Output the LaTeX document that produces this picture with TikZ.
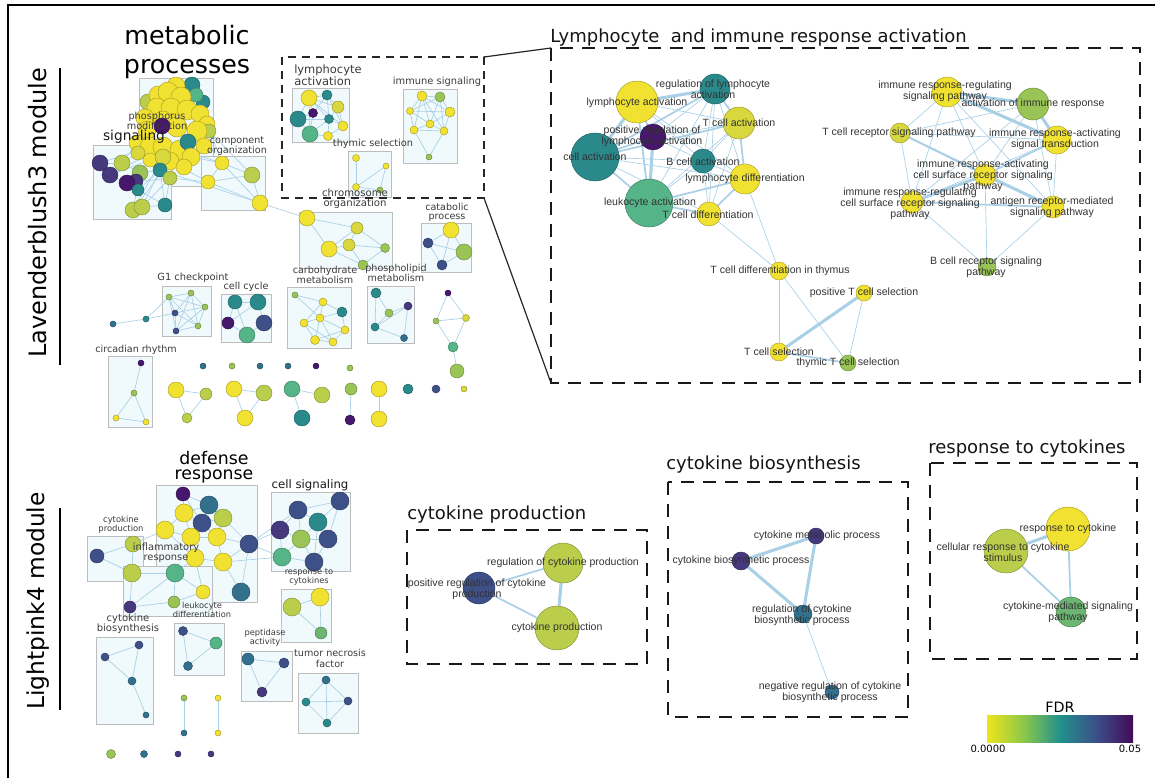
\documentclass[tikz,border=0pt]{standalone}
\usepackage{fontspec}
\setmainfont{DejaVu Sans}
\newfontfamily\lab{Liberation Sans}
\definecolor{cY}{HTML}{F1E232}
\definecolor{cYb}{HTML}{D8D73E}
\definecolor{cOL}{HTML}{BBCE4C}
\definecolor{cGR}{HTML}{9AC455}
\definecolor{cGM}{HTML}{6DB572}
\definecolor{cMG}{HTML}{55B488}
\definecolor{cTL}{HTML}{2A898A}
\definecolor{cTB}{HTML}{32708D}
\definecolor{cSL}{HTML}{3E5088}
\definecolor{cPS}{HTML}{46387D}
\definecolor{cPU}{HTML}{46176A}
\definecolor{edgec}{HTML}{A9D0E6}
\definecolor{boxf}{HTML}{F0F9FB}
\definecolor{boxd}{HTML}{BDBDBD}
\definecolor{labc}{HTML}{333333}
\definecolor{ovc}{HTML}{3A3A3A}
\definecolor{vA}{HTML}{EDE51B}
\definecolor{vB}{HTML}{8CC84A}
\definecolor{vC}{HTML}{21918C}
\definecolor{vD}{HTML}{3B4F8A}
\definecolor{vE}{HTML}{440A58}
\pgfdeclarehorizontalshading{viridisr}{100bp}{color(0bp)=(vA); color(25bp)=(vA); color(37.5bp)=(vB); color(50bp)=(vC); color(62.5bp)=(vD); color(75bp)=(vE); color(100bp)=(vE)}
\pgfdeclarelayer{boxes}
\pgfdeclarelayer{edges}
\pgfsetlayers{boxes,edges,main}
\tikzset{
  nd/.style={circle,inner sep=0pt,outer sep=0pt,fill=#1,draw=#1!70!black,line width=0.35pt},
  ed/.style={draw=edgec,line width=0.5pt},
  edm/.style={draw=edgec,line width=1.3pt},
  edt/.style={draw=edgec,line width=2.3pt},
  bx/.style={draw=boxd,fill=boxf,line width=0.6pt},
  dbox/.style={draw=black!90,line width=1.9pt,dash pattern=on 9.5pt off 7pt},
  sdbox/.style={draw=black!85,line width=1.1pt,dash pattern=on 6pt off 4.5pt},
  lbl/.style={font=\lab\fontsize{7.9}{8.3}\selectfont,text=labc,align=center,inner sep=0pt},
  ov/.style={font=\fontsize{7.2}{7.6}\selectfont,text=ovc,align=center,inner sep=0pt},
  ttl/.style={font=\fontsize{13.5}{15}\selectfont,text=black!92,inner sep=0pt,anchor=west},
}
\newcommand{\gn}[5]{\node[nd=#5,minimum size=#4*1.5pt] (#1) at (#2,#3) {};}
\begin{document}
\begin{tikzpicture}[x=0.75pt,y=-0.75pt]
\useasboundingbox (0,0) rectangle (1155,778);
% frame
\draw[black,line width=0.8pt] (8,778) -- (8,5) -- (1155,5);
% side labels
\node[font=\fontsize{18}{18}\selectfont,rotate=90,inner sep=0pt] (modA) at (38,213) {Lavenderblush3 module};
\node[font=\fontsize{17.5}{18}\selectfont,rotate=90,inner sep=0pt] (modB) at (38,601) {Lightpink4 module};
\draw[black,line width=0.8pt] (60,68) -- (60,365);
\draw[black,line width=0.8pt] (60,508) -- (60,710);

% ---------- overview boxes ----------
\begin{pgfonlayer}{boxes}
\draw[bx] (139,78) rectangle (213,186);
\draw[bx] (93,145) rectangle (171,219);
\draw[bx] (201,156) rectangle (265,210);
\draw[bx] (292,88) rectangle (349,142);
\draw[bx] (403,89) rectangle (457,163);
\draw[bx] (348,151) rectangle (391,197);
\draw[bx] (299,212) rectangle (392,268);
\draw[bx] (421,223) rectangle (471,272);
\draw[bx] (287,287) rectangle (351,348);
\draw[bx] (367,286) rectangle (414,343);
\draw[bx] (162,286) rectangle (211,336);
\draw[bx] (221,294) rectangle (271,342);
\draw[bx] (108,356) rectangle (152,427);
% bottom-left
\draw[bx] (156,485) rectangle (257,602);
\draw[bx] (271,492) rectangle (350,571);
\draw[bx] (87,536) rectangle (143,581);
\draw[bx] (123,566) rectangle (212,616);
\draw[bx] (174,623) rectangle (224,675);
\draw[bx] (96,637) rectangle (153,724);
\draw[bx] (281,589) rectangle (331,642);
\draw[bx] (241,651) rectangle (292,701);
\draw[bx] (298,673) rectangle (358,733);
\end{pgfonlayer}

% ---------- metabolic blob ----------
\gn{m1}{192}{85}{8}{cTL}
\gn{m2}{203}{102}{7}{cTL}
\gn{m3}{196}{95}{7}{cMG}
\gn{m4}{148}{102}{8}{cOL}
\gn{m40}{176}{86}{9}{cY}
\gn{m41}{158}{95}{9}{cY}
\gn{m5}{168}{92}{10}{cY}
\gn{m6}{181}{97}{10}{cY}
\gn{m7}{157}{108}{10}{cY}
\gn{m8}{171}{108}{10}{cY}
\gn{m9}{187}{110}{10}{cY}
\gn{m10}{200}{114}{9}{cY}
\gn{m11}{207}{124}{8}{cY}
\gn{m42}{145}{118}{9}{cY}
\gn{m12}{163}{121}{10}{cY}
\gn{m39}{209}{131}{7}{cOL}
\gn{m13}{177}{127}{10}{cY}
\gn{m14}{197}{131}{10}{cY}
\gn{m15}{147}{130}{9}{cY}
\gn{m22}{162}{126}{8}{cPU}
\gn{m16}{137}{143}{8}{cY}
\gn{m17}{150}{147}{10}{cY}
\gn{m18}{163}{147}{10}{cY}
\gn{m19}{180}{150}{10}{cY}
\gn{m43}{204}{146}{8}{cY}
\gn{m23}{188}{142}{8}{cTL}
\gn{m20}{191}{157}{9}{cY}
\gn{m21}{170}{161}{9}{cY}
\gn{m44}{184}{167}{8}{cY}
\gn{m38}{150}{160}{7}{cY}
\gn{m24}{163}{157}{8}{cYb}
\gn{m25}{138}{153}{7}{cYb}
\gn{m26}{160}{170}{7}{cTL}
\gn{m27}{170}{178}{7}{cOL}
\gn{m28}{140}{173}{8}{cGR}
\gn{m29}{100}{163}{8}{cPS}
\gn{m30}{110}{175}{8}{cPS}
\gn{m31}{122}{163}{8}{cOL}
\gn{m33}{136}{181}{7}{cPS}
\gn{m32}{127}{183}{8}{cPU}
\gn{m34}{138}{190}{6}{cTL}
\gn{m35}{133}{210}{8}{cOL}
\gn{m36}{142}{207}{8}{cOL}
\gn{m37}{165}{205}{7}{cTL}
\gn{co1}{222}{163}{7}{cY}
\gn{co2}{252}{175}{8}{cOL}
\gn{co3}{208}{182}{7}{cY}
\gn{co4}{260}{203}{8}{cY}
% lymphocyte activation sub-box
\gn{la1}{309}{98}{8}{cY}
\gn{la2}{327}{95}{5}{cTL}
\gn{la3}{338}{107}{6}{cYb}
\gn{la4}{298}{119}{8}{cTL}
\gn{la5}{313}{113}{4.5}{cPU}
\gn{la6}{329}{119}{4.5}{cTL}
\gn{la7}{310}{134}{8}{cMG}
\gn{la8}{343}{126}{5}{cY}
\gn{la9}{328}{136}{4.5}{cY}
% immune signaling
\gn{is1}{422}{96}{5}{cY}
\gn{is2}{440}{97}{5}{cGR}
\gn{is3}{410}{111}{3.5}{cY}
\gn{is4}{450}{112}{5}{cY}
\gn{is5}{414}{130}{4}{cY}
\gn{is6}{430}{124}{4}{cY}
\gn{is7}{444}{131}{4}{cY}
\gn{is8}{429}{157}{3}{cGR}
% thymic selection
\gn{ts1}{356}{158}{3.5}{cY}
\gn{ts2}{386}{166}{3}{cY}
\gn{ts3}{356}{187}{3.5}{cY}
\gn{ts4}{380}{190}{3}{cGR}
% chromosome organization
\gn{co5}{307}{218}{8}{cY}
\gn{co6}{357}{228}{6}{cYb}
\gn{co7}{329}{249}{8}{cY}
\gn{co8}{349}{245}{6}{cYb}
\gn{co9}{385}{248}{4.5}{cGR}
\gn{co10}{363}{265}{5}{cGR}
% catabolic process
\gn{cp1}{451}{230}{8}{cY}
\gn{cp2}{428}{243}{5}{cSL}
\gn{cp3}{464}{252}{8}{cGR}
\gn{cp4}{442}{265}{5}{cSL}
% carbohydrate metabolism
\gn{cm1}{295}{295}{3}{cGR}
\gn{cm2}{323}{302}{4}{cY}
\gn{cm3}{342}{312}{5}{cTL}
\gn{cm4}{320}{318}{4}{cY}
\gn{cm5}{304}{323}{4}{cY}
\gn{cm6}{345}{330}{4}{cY}
\gn{cm7}{315}{340}{4.5}{cY}
\gn{cm8}{333}{342}{4}{cY}
% phospholipid metabolism
\gn{pm1}{376}{293}{5}{cTL}
\gn{pm2}{408}{306}{4}{cPS}
\gn{pm3}{389}{313}{4}{cGR}
\gn{pm4}{375}{327}{4}{cTL}
\gn{pm5}{404}{338}{3.5}{cTB}
% G1 checkpoint
\gn{g1}{169}{297}{3}{cGR}
\gn{g2}{191}{293}{3}{cGR}
\gn{g3}{205}{307}{3}{cGR}
\gn{g4}{175}{313}{3}{cSL}
\gn{g5}{198}{326}{3}{cGR}
\gn{g6}{176}{331}{3}{cSL}
\gn{g7}{146}{319}{3}{cTL}
\gn{g8}{113}{324}{3}{cTB}
% cell cycle
\gn{cc1}{235}{302}{7}{cTL}
\gn{cc2}{258}{302}{8}{cTL}
\gn{cc3}{228}{323}{6}{cPU}
\gn{cc4}{264}{323}{8}{cSL}
\gn{cc5}{247}{335}{8}{cMG}
% circadian rhythm
\gn{cr1}{141}{363}{3}{cPU}
\gn{cr2}{134}{393}{3}{cGR}
\gn{cr3}{116}{418}{3}{cY}
\gn{cr4}{146}{422}{3}{cY}
% right chain
\gn{rc1}{448}{293}{3}{cPU}
\gn{rc2}{436}{321}{3}{cGR}
\gn{rc3}{466}{318}{3.5}{cYb}
\gn{rc4}{453}{347}{5}{cMG}
\gn{rc5}{457}{371}{7}{cGR}
% dots
\gn{d1}{203}{366}{3}{cTB}
\gn{d2}{232}{366}{3}{cGR}
\gn{d3}{260}{366}{3}{cTB}
\gn{d4}{288}{366}{3}{cTB}
\gn{d5}{316}{366}{3}{cPU}
\gn{d6}{350}{368}{3}{cGR}
% bottom groups
\gn{b1}{176}{390}{8}{cY}
\gn{b2}{206}{394}{6}{cOL}
\gn{b3}{187}{418}{5}{cOL}
\gn{b4}{234}{389}{8}{cY}
\gn{b5}{264}{393}{8}{cOL}
\gn{b6}{245}{418}{8}{cY}
\gn{b7}{292}{389}{8}{cMG}
\gn{b8}{322}{395}{8}{cOL}
\gn{b9}{302}{418}{8}{cTL}
\gn{b10}{351}{389}{6}{cGR}
\gn{b11}{350}{420}{5}{cPU}
\gn{b12}{379}{389}{8}{cY}
\gn{b13}{379}{419}{8}{cY}
\gn{b14}{408}{389}{5}{cTL}
\gn{b15}{436}{389}{4}{cSL}
\gn{b16}{464}{389}{3}{cYb}

% ---------- bottom-left overview ----------
\gn{dr1}{183}{494}{7}{cPU}
\gn{dr2}{209}{505}{9}{cTB}
\gn{dr3}{184}{513}{9}{cY}
\gn{dr5}{223}{518}{9}{cOL}
\gn{dr4}{202}{523}{9}{cSL}
\gn{dr6}{165}{530}{9}{cY}
\gn{dr7}{191}{537}{9}{cY}
\gn{dr8}{217}{537}{9}{cY}
\gn{dr9}{249}{544}{9}{cSL}
\gn{dr10}{195}{558}{9}{cY}
\gn{dr11}{223}{562}{9}{cY}
\gn{cpd1}{133}{544}{8}{cOL}
\gn{cpd2}{97}{556}{7}{cSL}
\gn{cpd3}{132}{573}{9}{cOL}
\gn{dr12}{175}{573}{9}{cMG}
\gn{dr13}{203}{592}{7}{cY}
\gn{dr14}{241}{592}{9}{cTB}
\gn{dr15}{174}{602}{6}{cGR}
\gn{dr16}{130}{607}{6}{cPS}
\gn{cs1}{298}{510}{9}{cSL}
\gn{cs2}{340}{501}{9}{cSL}
\gn{cs3}{318}{522}{9}{cTL}
\gn{cs4}{280}{530}{9}{cPS}
\gn{cs5}{301}{539}{9}{cGR}
\gn{cs6}{328}{539}{9}{cSL}
\gn{cs7}{282}{557}{9}{cMG}
\gn{cs8}{314}{562}{9}{cSL}
\gn{rca}{292}{607}{9}{cOL}
\gn{rcb}{320}{597}{9}{cY}
\gn{rcc}{321}{633}{6}{cGM}
\gn{cb1}{139}{645}{4}{cSL}
\gn{cb2}{105}{657}{4}{cSL}
\gn{cb3}{132}{681}{4}{cTB}
\gn{cb4}{146}{715}{3}{cTB}
\gn{ld1}{183}{631}{4.5}{cSL}
\gn{ld2}{216}{643}{6}{cMG}
\gn{ld3}{188}{666}{4.5}{cTB}
\gn{pa1}{248}{659}{6}{cTB}
\gn{pa2}{284}{663}{5}{cSL}
\gn{pa3}{262}{692}{5}{cPS}
\gn{tn1}{326}{680}{4}{cTB}
\gn{tn2}{306}{702}{4}{cTL}
\gn{tn3}{348}{701}{4}{cSL}
\gn{tn4}{327}{723}{4}{cTL}
\gn{pp1}{184}{698}{3}{cGR}
\gn{pp2}{184}{733}{3}{cTB}
\gn{pp3}{218}{698}{3}{cY}
\gn{pp4}{218}{733}{3}{cY}
\gn{s1}{111}{754}{4.5}{cGR}
\gn{s2}{144}{754}{3.5}{cTB}
\gn{s3}{178}{754}{3}{cPS}
\gn{s4}{211}{754}{3}{cPS}

% ---------- Lymphocyte big box nodes ----------
\gn{LA}{637}{102}{21}{cY}
\gn{RLA}{715}{89}{15}{cTL}
\gn{TCA}{739}{123}{16}{cYb}
\gn{PRLA}{653}{137}{13}{cPU}
\gn{CA}{595}{157}{24}{cTL}
\gn{BCA}{703}{161}{12}{cTL}
\gn{LD}{745}{179}{15}{cY}
\gn{LKA}{649}{203}{24}{cMG}
\gn{TCD}{709}{214}{12}{cY}
\gn{TDT}{779}{271}{9}{cY}
\gn{PTS}{864}{293}{8}{cY}
\gn{TS}{779}{352}{9}{cY}
\gn{TTS}{848}{363}{8}{cGR}
\gn{IRRSP}{947}{92}{15}{cY}
\gn{AIR}{1033}{104}{16}{cGR}
\gn{TCR}{900}{133}{10}{cYb}
\gn{IRAST}{1057}{140}{14}{cY}
\gn{IRACS}{985}{175}{11}{cY}
\gn{IRRCS}{912}{202}{11}{cY}
\gn{ARM}{1053}{207}{11}{cY}
\gn{BCR}{987}{267}{9}{cGR}
% cytokine boxes
\gn{RCP}{563}{563}{20}{cOL}
\gn{PRCP}{479}{588}{16}{cSL}
\gn{CPR}{557}{628}{22}{cOL}
\gn{CMP}{816}{536}{8}{cPS}
\gn{CBP}{741}{561}{9}{cPS}
\gn{RCB}{803}{614}{9}{cTB}
\gn{NRC}{832}{692}{7}{cTB}
\gn{RTC}{1068}{529}{22}{cY}
\gn{CRCS}{1006}{551}{22}{cOL}
\gn{CMSP}{1071}{612}{15}{cGM}

% ---------- edges ----------
\begin{pgfonlayer}{edges}
\foreach \a/\b in {m29/m31,m29/m30,m30/m32,m31/m28,m32/m34,m28/m35,m35/m36,m36/m37,m34/m37,m37/m26,m31/m16,m30/m18,m35/m21,m36/m27,m28/m26,m37/m27,m34/m21,m29/m17,m32/m27,m30/m38,m31/m25,m35/m24,m36/m26,
  co1/co2,co1/co3,co2/co4,co3/co4,co1/co4,co3/co2,m20/co1,m21/co3,m27/co3,m26/co4,m19/co1,m11/co1,m39/co2,co4/co5,
  la1/la2,la1/la3,la1/la4,la1/la5,la1/la6,la1/la7,la2/la3,la2/la5,la2/la6,la3/la6,la3/la8,la4/la5,la4/la7,la5/la7,la6/la7,la6/la8,la7/la9,la8/la9,la6/la9,la4/la6,la2/la8,la1/la8,
  is1/is2,is1/is3,is1/is4,is1/is5,is1/is6,is1/is7,is2/is3,is2/is4,is2/is6,is2/is7,is3/is5,is3/is6,is4/is6,is4/is7,is5/is6,is6/is7,is5/is7,is5/is8,is7/is8,is3/is4,
  ts1/ts3,ts2/ts3,ts2/ts4,ts3/ts4,
  co5/co6,co5/co7,co6/co7,co6/co8,co7/co8,co6/co9,co8/co9,co8/co10,co7/co10,co9/co10,
  cp1/cp2,cp1/cp3,cp2/cp4,cp3/cp4,cp2/cp3,cp1/cp4,
  cm1/cm4,cm1/cm2,cm2/cm3,cm2/cm4,cm2/cm5,cm3/cm4,cm3/cm6,cm4/cm5,cm4/cm6,cm4/cm7,cm4/cm8,cm5/cm7,cm6/cm8,cm7/cm8,cm5/cm8,cm6/cm7,
  pm1/pm3,pm1/pm4,pm2/pm3,pm2/pm4,pm3/pm4,pm2/pm5,pm4/pm5,
  g1/g2,g1/g3,g1/g4,g1/g5,g1/g6,g2/g3,g2/g4,g2/g5,g2/g6,g3/g4,g3/g5,g3/g6,g4/g5,g4/g6,g5/g6,g1/g7,g4/g7,g7/g8,
  cc1/cc2,cc1/cc3,cc2/cc4,cc3/cc5,cc4/cc5,cc1/cc5,cc2/cc3,
  cr1/cr2,cr2/cr3,cr2/cr4,cr3/cr4,
  rc1/rc2,rc1/rc3,rc2/rc3,rc3/rc4,rc2/rc4,rc4/rc5,
  b1/b2,b2/b3,b1/b3,b4/b5,b4/b6,b5/b6,b7/b8,b7/b9,b10/b11,b12/b13,
  dr1/dr2,dr1/dr3,dr1/dr4,dr2/dr3,dr2/dr4,dr2/dr5,dr3/dr4,dr3/dr6,dr3/dr7,dr4/dr5,dr4/dr7,dr4/dr8,dr5/dr8,dr6/dr7,dr6/dr10,dr7/dr8,dr7/dr10,dr8/dr11,dr8/dr9,dr10/dr11,dr5/dr9,dr9/dr11,dr9/dr14,dr11/dr14,dr10/dr12,dr12/dr13,dr10/dr13,dr13/dr15,dr12/dr15,dr15/dr16,dr12/dr16,dr6/cpd1,
  cpd1/cpd2,cpd2/cpd3,cpd1/cpd3,cpd3/dr12,cpd3/dr16,
  dr9/cs4,dr9/cs1,dr11/cs7,dr9/cs7,
  cs1/cs2,cs1/cs3,cs1/cs4,cs1/cs5,cs2/cs3,cs2/cs6,cs3/cs5,cs3/cs6,cs4/cs5,cs4/cs7,cs5/cs7,cs5/cs8,cs6/cs8,cs7/cs8,cs3/cs8,cs5/cs6,
  rca/rcb,rca/rcc,rcb/rcc,
  cb1/cb2,cb1/cb3,cb2/cb3,cb3/cb4,
  ld1/ld2,ld1/ld3,ld2/ld3,
  pa1/pa2,pa1/pa3,pa2/pa3,
  tn1/tn2,tn1/tn3,tn1/tn4,tn2/tn3,tn2/tn4,tn3/tn4,
  pp1/pp2,pp3/pp4}
  \draw[ed] (\a) -- (\b);
% lymphocyte cluster
\foreach \a/\b in {LA/TCA,LA/BCA,LA/LD,RLA/PRLA,RLA/BCA,RLA/LD,RLA/TCD,RLA/LKA,TCA/BCA,TCA/TCD,TCA/LKA,TCA/PRLA,PRLA/BCA,CA/BCA,CA/LD,CA/TCD,LKA/BCA,BCA/LD,BCA/TCD,LD/TDT,TCD/TDT,TDT/TS,TDT/TTS,PTS/TTS,
  IRRSP/TCR,IRRSP/IRACS,IRRSP/IRRCS,IRRSP/ARM,AIR/TCR,AIR/IRACS,AIR/IRRCS,AIR/ARM,TCR/IRRCS,TCR/IRAST,IRAST/ARM,IRAST/IRRCS,BCR/IRRCS,BCR/IRACS,BCR/ARM,
  RCB/NRC}
  \draw[ed] (\a) -- (\b);
\foreach \a/\b in {LA/PRLA,LA/LKA,RLA/TCA,RLA/CA,TCA/CA,TCA/LD,CA/LKA,LKA/LD,LKA/TCD,LD/TCD,PRLA/CA,TS/TTS,
  TCR/ARM,IRAST/IRACS,IRRCS/ARM,TCR/IRACS,
  PRCP/RCP,PRCP/CPR,RTC/CMSP,CRCS/CMSP}
  \draw[edm] (\a) -- (\b);
\foreach \a/\b in {LA/RLA,LA/CA,PRLA/LKA,PTS/TS,IRRSP/AIR,IRRSP/IRAST,AIR/IRAST,IRACS/IRRCS,IRACS/ARM,
  RCP/CPR,CMP/CBP,CMP/RCB,CBP/RCB,RTC/CRCS}
  \draw[edt] (\a) -- (\b);
\end{pgfonlayer}

% ---------- overview labels ----------
\node[font=\fontsize{19}{21.8}\selectfont,align=center,inner sep=0pt] (tMP) at (187,52) {metabolic\\processes};
\node[ov,font=\fontsize{7.3}{7.4}\selectfont] (tPM) at (157,121) {phosphorus\\modification};
\node[font=\fontsize{10.3}{11}\selectfont,text=black!90,inner sep=0pt] (tSG) at (134,137) {signaling};
\node[ov,font=\fontsize{7.2}{6.3}\selectfont] (tCO) at (237,146) {component\\organization};
\node[font=\fontsize{8.6}{9}\selectfont,text=ovc,align=left,inner sep=0pt,anchor=west] (tLA) at (294,75) {lymphocyte\\activation};
\node[ov,font=\fontsize{7.4}{8}\selectfont] (tIS) at (437,82) {immune signaling};
\node[ov,font=\fontsize{7.3}{8}\selectfont] (tTS) at (373,144) {thymic selection};
\node[ov,font=\fontsize{7.6}{7.6}\selectfont] (tCH) at (355,199) {chromosome\\organization};
\node[ov,font=\fontsize{7.2}{6.8}\selectfont] (tCP) at (447,212.5) {catabolic\\process};
\node[ov,font=\fontsize{7.2}{7.5}\selectfont] (tCM) at (325,275) {carbohydrate\\metabolism};
\node[ov,font=\fontsize{7.2}{7.5}\selectfont] (tPL) at (396,273) {phospholipid\\metabolism};
\node[ov,font=\fontsize{7.4}{8}\selectfont] (tG1) at (193,278) {G1 checkpoint};
\node[ov,font=\fontsize{7.3}{8}\selectfont] (tCC) at (246,287) {cell cycle};
\node[ov,font=\fontsize{7.2}{8}\selectfont] (tCR) at (136,350) {circadian rhythm};
\node[font=\fontsize{13}{11.3}\selectfont,align=center,inner sep=0pt] (tDR) at (214,467.5) {defense\\response};
\node[font=\fontsize{8.8}{9}\selectfont,text=black!90,inner sep=0pt] (tCS) at (310,485) {cell signaling};
\node[ov,font=\fontsize{6.3}{6.8}\selectfont] (tCPd) at (121,524.5) {cytokine\\production};
\node[ov,font=\fontsize{7.4}{7.5}\selectfont] (tIR) at (166,553) {inflammatory\\response};
\node[ov,font=\fontsize{6.2}{6}\selectfont] (tLD) at (202,610) {leukocyte\\differentiation};
\node[ov,font=\fontsize{7.5}{7.5}\selectfont] (tCB) at (128,624) {cytokine\\biosynthesis};
\node[ov,font=\fontsize{6.2}{6}\selectfont] (tRC) at (309,577) {response to\\cytokines};
\node[ov,font=\fontsize{6.2}{6}\selectfont] (tPA) at (265,638) {peptidase\\activity};
\node[ov,font=\fontsize{7.2}{8.2}\selectfont] (tTN) at (330,658.5) {tumor necrosis\\factor};

% ---------- dashed boxes ----------
\draw[sdbox] (282,57) rectangle (484,198);
\draw[dbox] (551,48) rectangle (1140,383);
\coordinate (sTR) at (484,57);
\coordinate (sBR) at (484,198);
\coordinate (bTL) at (551,48);
\coordinate (bBL) at (551,383);
\draw[black!85,line width=0.9pt] (sTR) -- (bTL);
\draw[black!85,line width=0.9pt] (sBR) -- (bBL);
\draw[dbox] (407,530) rectangle (647,664);
\draw[dbox] (668,482) rectangle (908,717);
\draw[dbox] (930,463) rectangle (1137,659);

% titles
\node[ttl] (tLY) at (550,38) {Lymphocyte\ \ and immune response activation};
\node[ttl] (tCPR) at (407,515) {cytokine production};
\node[ttl] (tCBS) at (666,465) {cytokine biosynthesis};
\node[ttl] (tRTC) at (928,449) {response to cytokines};

% ---------- network labels ----------
\node[lbl] (lLA) at (637,103) {lymphocyte activation};
\node[lbl] (lRLA) at (713,89) {regulation of lymphocyte\\activation};
\node[lbl] (lTCA) at (739,123) {T cell activation};
\node[lbl] (lPRLA) at (652,136.5) {positive regulation of\\lymphocyte activation};
\node[lbl] (lCA) at (595,157) {cell activation};
\node[lbl] (lBCA) at (703,162) {B cell activation};
\node[lbl] (lLD) at (745,179) {lymphocyte differentiation};
\node[lbl] (lLKA) at (650,203) {leukocyte activation};
\node[lbl] (lTCD) at (708,215) {T cell differentiation};
\node[lbl] (lIRRSP) at (945,91.5) {immune response-regulating\\signaling pathway};
\node[lbl] (lAIR) at (1033,104) {activation of immune response};
\node[lbl] (lTCR) at (899,133) {T cell receptor signaling pathway};
\node[lbl] (lIRAST) at (1055,139.5) {immune response-activating\\signal transduction};
\node[lbl] (lIRACS) at (983,175.5) {immune response-activating\\cell surface receptor signaling\\pathway};
\node[lbl] (lIRRCS) at (910,204) {immune response-regulating\\cell surface receptor signaling\\pathway};
\node[lbl] (lARM) at (1052,207.5) {antigen receptor-mediated\\signaling pathway};
\node[lbl] (lBCR) at (986,267.5) {B cell receptor signaling\\pathway};
\node[lbl] (lTDT) at (780,271) {T cell differentiation in thymus};
\node[lbl] (lPTS) at (864,293) {positive T cell selection};
\node[lbl] (lTS) at (779,352) {T cell selection};
\node[lbl] (lTTS) at (848,363) {thymic T cell selection};
\node[lbl] (lRCP) at (563,563) {regulation of cytokine production};
\node[lbl] (lPRCP) at (477,589.5) {positive regulation of cytokine\\production};
\node[lbl] (lCPR) at (557,628) {cytokine production};
\node[lbl] (lCMP) at (817,536) {cytokine metabolic process};
\node[lbl] (lCBP) at (741,561) {cytokine biosynthetic process};
\node[lbl] (lRCB) at (802,615.5) {regulation of cytokine\\biosynthetic process};
\node[lbl] (lNRC) at (830,692.5) {negative regulation of cytokine\\biosynthetic process};
\node[lbl] (lRTC) at (1068,529) {response to cytokine};
\node[lbl] (lCRCS) at (1003,552) {cellular response to cytokine\\stimulus};
\node[lbl] (lCMSP) at (1068,612) {cytokine-mediated signaling\\pathway};

% ---------- legend ----------
\node[font=\fontsize{10.7}{11}\selectfont,inner sep=0pt] (tFDR) at (1060,707) {FDR};
\shade[shading=viridisr] (987,715) rectangle (1133,742);
\node[font=\fontsize{7.5}{8}\selectfont,inner sep=0pt] (t0) at (988,749) {0.0000};
\node[font=\fontsize{7.5}{8}\selectfont,inner sep=0pt] (t5) at (1130,749) {0.05};
\end{tikzpicture}
\end{document}
